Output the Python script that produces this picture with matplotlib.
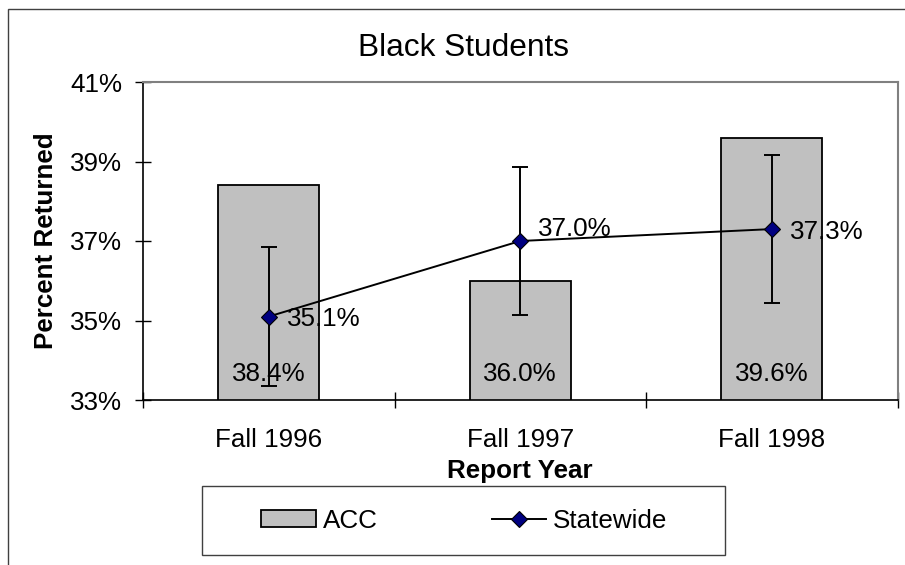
###############################################################
# matplotlib
###############################################################
import matplotlib
matplotlib.use('Agg')
import matplotlib.pyplot as plt
from matplotlib.patches import Rectangle
from matplotlib.ticker import FixedLocator
import numpy as np

plt.rcParams['font.family'] = ['Liberation Sans', 'DejaVu Sans']

###############################################################
# data
###############################################################
years = ['Fall 1996', 'Fall 1997', 'Fall 1998']
acc = [38.4, 36.0, 39.6]
statewide = [35.1, 37.0, 37.3]
statewide_err = [1.75, 1.85, 1.86]
yticks = [33, 35, 37, 39, 41]

###############################################################
# figure
###############################################################
W, H = 905, 565
fig = plt.figure(figsize=(W / 100, H / 100), dpi=100)
# plot area in pixels: x 143..897.5, y 82..400
ax = fig.add_axes([143 / W, 1 - 400 / H, (897.5 - 143) / W, (400 - 82) / H])
fs = 18.7
lw = 1.4

x = np.arange(len(years))

##################################################
# ACC bars
##################################################
bars = ax.bar(x, acc, width=0.4, bottom=0, color='#C0C0C0', edgecolor='black',
              linewidth=1.3, label='ACC', zorder=2)
for xi, v in zip(x, acc):
    ax.annotate('%.1f%%' % v, (xi, 33), xytext=(0, 19), textcoords='offset points',
                ha='center', va='center', fontsize=fs, zorder=5)

##################################################
# statewide line with error bars
##################################################
ax.errorbar(x, statewide, yerr=statewide_err, fmt='none', ecolor='black',
            elinewidth=lw, capsize=5.8, capthick=lw, zorder=3)
line, = ax.plot(x, statewide, color='black', linewidth=lw, marker='D', markersize=8.5,
                markerfacecolor='#000080', markeredgecolor='black', markeredgewidth=0.8,
                label='Statewide', zorder=4)
# label offsets in points (middle label sits above the line)
label_dy = [-1.9, 9, -1.9]
for xi, v, dy in zip(x, statewide, label_dy):
    ax.annotate('%.1f%%' % v, (xi, v), xytext=(13, dy), textcoords='offset points',
                ha='left', va='center', fontsize=fs, zorder=5)

##################################################
# axes
##################################################
ax.set_xlim(-0.5, 2.5)
ax.set_ylim(33, 41)
ax.set_yticks(yticks)
ax.set_yticklabels(['%d%%' % t for t in yticks])
ax.xaxis.set_major_locator(FixedLocator([-0.5, 0.5, 1.5, 2.5]))
ax.xaxis.set_major_formatter(plt.NullFormatter())
ax.xaxis.set_minor_locator(FixedLocator(x))
ax.set_xticklabels(years, minor=True)
ax.tick_params(axis='both', which='major', direction='inout', length=11.5,
               width=1, labelsize=fs, color='black')
ax.tick_params(axis='y', which='major', pad=9.4)
ax.tick_params(axis='x', which='minor', length=0, pad=20, labelsize=fs)

for s in ['top', 'right']:
    ax.spines[s].set_color('#808080')
    ax.spines[s].set_linewidth(1.5)
for s in ['left', 'bottom']:
    ax.spines[s].set_color('black')
    ax.spines[s].set_linewidth(1.2)

ax.set_xlabel('Report Year', fontsize=fs, fontweight='bold')
ax.xaxis.set_label_coords(0.5, (400 - 459) / 318)
ax.set_ylabel('Percent Returned', fontsize=fs, fontweight='bold')
ax.yaxis.set_label_coords((57.5 - 143) / 754.5, 0.5)

fig.text(463 / W, 1 - 56 / H, 'Black Students', fontsize=22.8,
         ha='center', va='baseline')

##################################################
# legend, frame drawn by hand
##################################################
fig.patches.append(Rectangle((202 / W, 1 - 555 / H), (725 - 202) / W, (555 - 486) / H,
                             transform=fig.transFigure, fill=False,
                             edgecolor='#404040', linewidth=1))
fig.legend([bars, line], ['ACC', 'Statewide'], ncol=2, frameon=False, loc='center left',
           bbox_to_anchor=(261 / W, 1 - 520.5 / H), borderpad=0, borderaxespad=0,
           fontsize=fs, handlelength=2.1, handleheight=0.65, handletextpad=0.27,
           columnspacing=4.4)

# outer chart border (left and top only are inside the picture)
fig.patches.append(Rectangle((8 / W, -0.2), 1.2, 1 - 9 / H + 0.2,
                             transform=fig.transFigure, fill=False,
                             edgecolor='#404040', linewidth=1))

##################################################
# saving
##################################################
fig.savefig('out.png', dpi=100)
